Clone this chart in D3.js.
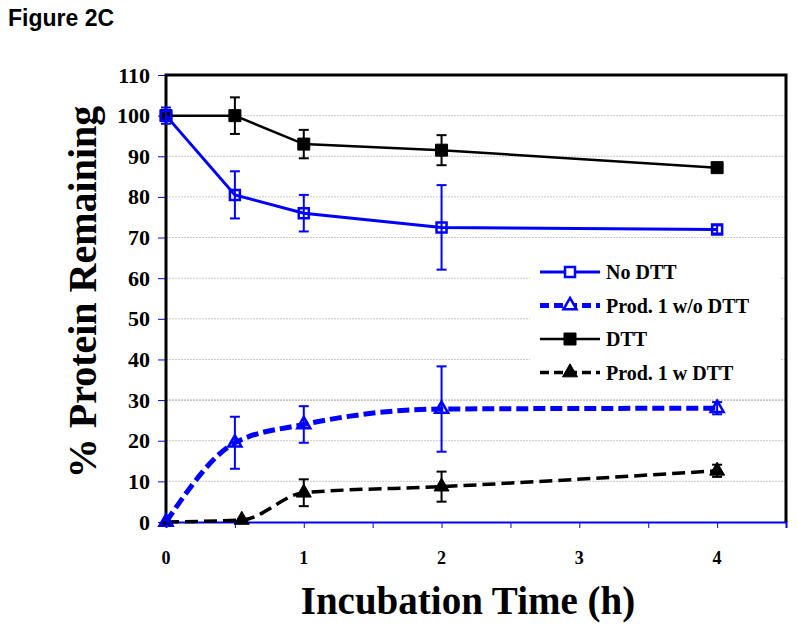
<!DOCTYPE html>
<html>
<head>
<meta charset="utf-8">
<script src="https://cdn.jsdelivr.net/npm/d3@7"></script>
<style>
  body { margin: 0; background: #fff; }
  svg { display: block; }
</style>
</head>
<body>
<script>
// values
var hours = [0, 0.5, 1, 2, 4];
var hoursW = [0, 0.55, 1, 2, 4];
var noDTT = [100, 80.5, 76, 72.5, 72];
var noDTTErr = [2, 5.8, 4.5, 10.4, 1];
var prodNoDTT = [0, 19.5, 24, 27.8, 28];
var prodNoDTTErr = [0, 6.4, 4.5, 10.5, 1.5];
var dtt = [100, 100, 93, 91.5, 87.2];
var dttErr = [0, 4.5, 3.5, 3.7, 0];
var prodDTT = [0, 0.5, 7.2, 8.7, 12.6];
var prodDTTErr = [0, 0, 3.3, 3.7, 1.5];
var yTicks = [0, 10, 20, 30, 40, 50, 60, 70, 80, 90, 100, 110];
var xTicks = [0, 0.5, 1, 1.5, 2, 2.5, 3, 3.5, 4, 4.5];
var xLabels = [0, 1, 2, 3, 4];

var w = 797, h = 628;
var serif = "'Liberation Serif', 'Times New Roman', serif";

var svg = d3.select('body').append('svg')
  .attr('width', w).attr('height', h);

var x = d3.scaleLinear().domain([0, 4.5]).range([166, 786]);
var y = d3.scaleLinear().domain([0, 110]).range([522, 75]);

svg.append('text')
  .attr('x', 8).attr('y', 26)
  .style('font-family', "'Liberation Sans', Arial, sans-serif")
  .style('font-weight', 'bold').style('font-size', '23px')
  .text('Figure 2C');

// gridlines
svg.selectAll('.grid')
  .data(yTicks.filter(d => d > 0 && d < 110))
  .enter().append('line')
  .attr('x1', x(0)).attr('x2', x(4.5))
  .attr('y1', d => y(d)).attr('y2', d => y(d))
  .attr('stroke', d => d == 30 ? '#999' : '#c8c8c8')
  .attr('stroke-width', 1)
  .attr('stroke-dasharray', '2,1');

// legend background
svg.append('rect')
  .attr('x', 530).attr('y', 256).attr('width', 250).attr('height', 132)
  .attr('fill', '#fff');

// y axis ticks + labels
var yAxis = d3.axisLeft(y).tickValues(yTicks).tickSize(8).tickPadding(8);
var gy = svg.append('g').attr('transform', 'translate(' + x(0) + ',0)').call(yAxis);
gy.select('.domain').remove();
gy.selectAll('line').attr('stroke', '#0000ff');
gy.selectAll('text')
  .style('font-family', serif).style('font-weight', 'bold')
  .style('font-size', '22px').attr('fill', '#000');

// x axis
var xAxis = d3.axisBottom(x).tickValues(xTicks).tickSize(6).tickFormat('');
var gx = svg.append('g').attr('transform', 'translate(0,' + y(0) + ')').call(xAxis);
gx.select('.domain').attr('stroke', '#0000ff').attr('stroke-width', 2);
gx.selectAll('line').attr('stroke', '#0000ff');
svg.selectAll('.xlab').data(xLabels).enter().append('text')
  .attr('x', d => x(d)).attr('y', 564)
  .attr('text-anchor', 'middle')
  .style('font-family', serif).style('font-weight', 'bold').style('font-size', '18px')
  .text(d => d);

// frame: left, top, right in thick black
svg.append('path')
  .attr('d', 'M' + x(0) + ',' + y(0) + 'V' + y(110) + 'H' + x(4.5) + 'V' + y(0))
  .attr('fill', 'none').attr('stroke', '#000').attr('stroke-width', 3);

// titles
svg.append('text')
  .attr('transform', 'translate(96,292) rotate(-90)')
  .attr('text-anchor', 'middle')
  .style('font-family', serif).style('font-weight', 'bold').style('font-size', '40px')
  .text('% Protein Remaining');
svg.append('text')
  .attr('x', 468).attr('y', 614)
  .attr('text-anchor', 'middle')
  .style('font-family', serif).style('font-weight', 'bold').style('font-size', '39px')
  .text('Incubation Time (h)');

var series = [
  {xs: hours, ys: dtt, err: dttErr, color: '#000', width: 2.5, dash: null, curve: d3.curveLinear, marker: 'square', fill: '#000', size: 12},
  {xs: hoursW, ys: prodDTT, err: prodDTTErr, color: '#000', width: 3.5, dash: '13,6', curve: d3.curveMonotoneX, marker: 'triangle', fill: '#000', size: 15},
  {xs: hours, ys: prodNoDTT, err: prodNoDTTErr, color: '#0000ff', width: 5, dash: '12,5', curve: d3.curveMonotoneX, marker: 'triangle', fill: 'none', size: 13},
  {xs: hours, ys: noDTT, err: noDTTErr, color: '#0000ff', width: 3, dash: null, curve: d3.curveLinear, marker: 'square', fill: 'none', size: 10}
];

function markerPath(type, s) {
  if (type == 'square') return 'M' + (-s / 2) + ',' + (-s / 2) + 'h' + s + 'v' + s + 'h' + (-s) + 'Z';
  var hh = s * 0.866;
  return 'M0,' + (-hh * 2 / 3) + 'L' + (s / 2) + ',' + (hh / 3) + 'L' + (-s / 2) + ',' + (hh / 3) + 'Z';
}

series.forEach(function(s) {
  var pts = s.xs.map((d, i) => [d, s.ys[i], s.err[i]]);
  var g = svg.append('g');
  g.append('path')
    .datum(pts)
    .attr('d', d3.line().x(d => x(d[0])).y(d => y(d[1])).curve(s.curve))
    .attr('fill', 'none').attr('stroke', s.color).attr('stroke-width', s.width)
    .attr('stroke-dasharray', s.dash);
  var eb = g.selectAll('.eb').data(pts.filter(d => d[2] > 0)).enter().append('g');
  eb.append('line')
    .attr('x1', d => x(d[0])).attr('x2', d => x(d[0]))
    .attr('y1', d => y(d[1] - d[2])).attr('y2', d => y(d[1] + d[2]))
    .attr('stroke', s.color).attr('stroke-width', 2);
  [-1, 1].forEach(function(k) {
    eb.append('line')
      .attr('x1', d => x(d[0]) - 5).attr('x2', d => x(d[0]) + 5)
      .attr('y1', d => y(d[1] + k * d[2])).attr('y2', d => y(d[1] + k * d[2]))
      .attr('stroke', s.color).attr('stroke-width', 2);
  });
  g.selectAll('.mk').data(pts).enter().append('path')
    .attr('transform', d => 'translate(' + x(d[0]) + ',' + y(d[1]) + ')')
    .attr('d', markerPath(s.marker, s.size))
    .attr('fill', s.fill).attr('stroke', s.color).attr('stroke-width', s.fill == 'none' ? 2.5 : 1);
});

// legend
var legendNames = ['No DTT', 'Prod. 1 w/o DTT', 'DTT', 'Prod. 1 w DTT'];
var legendRows = [3, 2, 0, 1];
var lg = svg.append('g');
legendNames.forEach(function(name, i) {
  var s = series[legendRows[i]];
  var ly = 272 + i * 33.5;
  lg.append('line')
    .attr('x1', 540).attr('x2', 600).attr('y1', ly).attr('y2', ly)
    .attr('stroke', s.color).attr('stroke-width', s.width)
    .attr('stroke-dasharray', s.dash ? '9,5' : null);
  lg.append('path')
    .attr('transform', 'translate(570,' + ly + ')')
    .attr('d', markerPath(s.marker, s.size))
    .attr('fill', s.fill == 'none' ? '#fff' : s.fill)
    .attr('stroke', s.color).attr('stroke-width', s.fill == 'none' ? 2.5 : 1);
  lg.append('text')
    .attr('x', 606).attr('y', ly + 7)
    .style('font-family', serif).style('font-weight', 'bold').style('font-size', '20px')
    .text(name);
});
</script>
</body>
</html>
